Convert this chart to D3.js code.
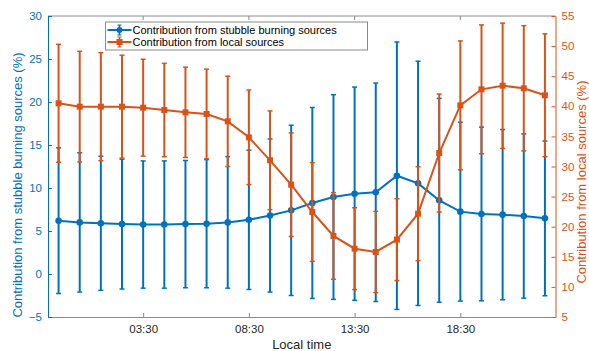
<!DOCTYPE html>
<html>
<head>
<meta charset="utf-8">
<script src="https://cdn.jsdelivr.net/npm/d3@7"></script>
<style>
  body { margin: 0; background: #fff; }
  svg { font-family: "Liberation Sans", Arial, sans-serif; }
</style>
</head>
<body>
<div id="chart"></div>
<script>
// local time of each point, in hours (first point is 23:30 of the previous day)
const hours = [-0.5, 0.5, 1.5, 2.5, 3.5, 4.5, 5.5, 6.5, 7.5, 8.5, 9.5, 10.5,
  11.5, 12.5, 13.5, 14.5, 15.5, 16.5, 17.5, 18.5, 19.5, 20.5, 21.5, 22.5];

// stubble burning contribution (%), mean and std
const stubbleMean = [6.2, 6.0, 5.9, 5.8, 5.75, 5.75, 5.8, 5.85, 6.0, 6.3, 6.8, 7.4,
  8.26, 8.95, 9.34, 9.5, 11.43, 10.54, 8.57, 7.25, 6.98, 6.9, 6.74, 6.47];
const stubbleStd = [8.47, 8.1, 7.8, 7.55, 7.4, 7.4, 7.4, 7.45, 7.65, 8.1, 8.9, 9.9,
  11.1, 11.9, 12.4, 12.7, 15.55, 14.2, 11.85, 10.4, 10.1, 9.9, 9.55, 9.0];

// local sources contribution (%), mean and std
const localMean = [40.5, 39.94, 39.94, 39.94, 39.77, 39.38, 39.0, 38.72, 37.5, 34.85, 31.03, 26.98,
  22.44, 18.46, 16.35, 15.8, 17.85, 22.16, 32.24, 40.16, 42.82, 43.42, 42.99, 41.83];
const localStd = [9.8, 9.2, 8.97, 8.55, 8.05, 7.75, 7.5, 7.45, 7.5, 7.86, 8.2, 8.6,
  8.2, 7.2, 6.8, 6.75, 6.8, 7.8, 9.8, 10.7, 10.7, 10.4, 10.4, 10.2];

const xTicks = [3.5, 8.5, 13.5, 18.5];
const xTickLabels = ["03:30", "08:30", "13:30", "18:30"];
const leftTicks = [-5, 0, 5, 10, 15, 20, 25, 30];
const rightTicks = [5, 10, 15, 20, 25, 30, 35, 40, 45, 50, 55];

const blue = "#0072BD";
const orange = "#D95319";
const gray = "#262626";

const svgWidth = 589;
const svgHeight = 351;
const margin = { top: 16, right: 33.5, bottom: 34, left: 48 };
const width = svgWidth - margin.left - margin.right;
const height = svgHeight - margin.top - margin.bottom;

const svg = d3.select("#chart")
  .append("svg")
  .attr("width", svgWidth)
  .attr("height", svgHeight);

const chartGroup = svg.append("g")
  .attr("transform", `translate(${margin.left}, ${margin.top})`);

const x = d3.scaleLinear().domain([-1, 23]).range([0, width]);
const yLeft = d3.scaleLinear().domain([-5, 30]).range([height, 0]);
const yRight = d3.scaleLinear().domain([5, 55]).range([height, 0]);

// box (top line with ticks too)
chartGroup.append("line")
  .attr("x1", 0).attr("x2", width).attr("y1", 0).attr("y2", 0)
  .attr("stroke", "#8a8a8a").attr("stroke-width", 1);
chartGroup.selectAll(".toptick")
  .data(xTicks)
  .enter()
  .append("line")
  .attr("x1", d => x(d)).attr("x2", d => x(d))
  .attr("y1", 0).attr("y2", 4)
  .attr("stroke", "#8a8a8a");

// bottom axis
const bottomAxis = d3.axisBottom(x)
  .tickValues(xTicks)
  .tickFormat((d, i) => xTickLabels[i])
  .tickSizeInner(-4)
  .tickSizeOuter(0)
  .tickPadding(8);
const xAxis = chartGroup.append("g")
  .attr("transform", `translate(0, ${height})`)
  .call(bottomAxis);
xAxis.select(".domain").attr("stroke", "#8a8a8a");
xAxis.selectAll(".tick line").attr("stroke", "#8a8a8a");
xAxis.selectAll("text")
  .attr("fill", gray)
  .style("font-size", "11.5px")
  .style("font-family", "Liberation Sans, Arial, sans-serif");

// left axis
const leftAxis = d3.axisLeft(yLeft)
  .tickValues(leftTicks)
  .tickSizeInner(-4)
  .tickSizeOuter(0)
  .tickPadding(6);
const yAxisL = chartGroup.append("g").call(leftAxis);
yAxisL.select(".domain").attr("stroke", blue);
yAxisL.selectAll(".tick line").attr("stroke", blue);
yAxisL.selectAll("text")
  .attr("fill", blue)
  .style("font-size", "11.5px")
  .style("font-family", "Liberation Sans, Arial, sans-serif");

// right axis
const rightAxis = d3.axisRight(yRight)
  .tickValues(rightTicks)
  .tickSizeInner(-4)
  .tickSizeOuter(0)
  .tickPadding(6);
const yAxisR = chartGroup.append("g")
  .attr("transform", `translate(${width}, 0)`)
  .call(rightAxis);
yAxisR.select(".domain").attr("stroke", orange);
yAxisR.selectAll(".tick line").attr("stroke", orange);
yAxisR.selectAll("text")
  .attr("fill", orange)
  .style("font-size", "11.5px")
  .style("font-family", "Liberation Sans, Arial, sans-serif");

// axis titles
chartGroup.append("text")
  .attr("x", width / 2)
  .attr("y", height + 32)
  .attr("text-anchor", "middle")
  .attr("fill", gray)
  .style("font-size", "13px")
  .text("Local time");

chartGroup.append("text")
  .attr("transform", "rotate(-90)")
  .attr("x", -169)
  .attr("y", -26)
  .attr("text-anchor", "middle")
  .attr("fill", blue)
  .style("font-size", "13px")
  .text("Contribution from stubble burning sources (%)");

chartGroup.append("text")
  .attr("transform", "rotate(-90)")
  .attr("x", -166)
  .attr("y", width + 30.5)
  .attr("text-anchor", "middle")
  .attr("fill", orange)
  .style("font-size", "13px")
  .text("Contribution from local sources (%)");

// draw one error bar series
function drawSeries(mean, std, yScale, color, marker) {
  const g = chartGroup.append("g");
  const pts = hours.map((h, i) => ({ h: h, m: mean[i], s: std[i] }));

  const bars = g.selectAll(".bar")
    .data(pts)
    .enter()
    .append("g");
  bars.append("line")
    .attr("x1", d => x(d.h)).attr("x2", d => x(d.h))
    .attr("y1", d => yScale(d.m - d.s)).attr("y2", d => yScale(d.m + d.s))
    .attr("stroke", color).attr("stroke-width", 2);
  bars.append("line")
    .attr("x1", d => x(d.h) - 2.5).attr("x2", d => x(d.h) + 2.5)
    .attr("y1", d => yScale(d.m + d.s)).attr("y2", d => yScale(d.m + d.s))
    .attr("stroke", color).attr("stroke-width", 1.5);
  bars.append("line")
    .attr("x1", d => x(d.h) - 2.5).attr("x2", d => x(d.h) + 2.5)
    .attr("y1", d => yScale(d.m - d.s)).attr("y2", d => yScale(d.m - d.s))
    .attr("stroke", color).attr("stroke-width", 1.5);

  const line = d3.line().x(d => x(d.h)).y(d => yScale(d.m));
  g.append("path")
    .datum(pts)
    .attr("d", line)
    .attr("fill", "none")
    .attr("stroke", color)
    .attr("stroke-width", 2);

  if (marker === "circle") {
    g.selectAll(".pt")
      .data(pts)
      .enter()
      .append("circle")
      .attr("cx", d => x(d.h)).attr("cy", d => yScale(d.m))
      .attr("r", 3.3)
      .attr("fill", color);
  } else {
    g.selectAll(".pt")
      .data(pts)
      .enter()
      .append("rect")
      .attr("x", d => x(d.h) - 3).attr("y", d => yScale(d.m) - 3)
      .attr("width", 6).attr("height", 6)
      .attr("fill", color);
  }
}

drawSeries(stubbleMean, stubbleStd, yLeft, blue, "circle");
drawSeries(localMean, localStd, yRight, orange, "square");

// legend
const legend = svg.append("g").attr("transform", "translate(105.5, 22)");
legend.append("rect")
  .attr("width", 262).attr("height", 28)
  .attr("fill", "#fff")
  .attr("stroke", "#8a8a8a").attr("stroke-width", 1);

const legendItems = [
  { label: "Contribution from stubble burning sources", color: blue, marker: "circle" },
  { label: "Contribution from local sources", color: orange, marker: "square" }
];
legendItems.forEach((item, i) => {
  const cy = 8 + i * 12;
  const row = legend.append("g");
  row.append("line")
    .attr("x1", 2).attr("x2", 26).attr("y1", cy).attr("y2", cy)
    .attr("stroke", item.color).attr("stroke-width", 2);
  row.append("line")
    .attr("x1", 14).attr("x2", 14).attr("y1", cy - 5).attr("y2", cy + 5)
    .attr("stroke", item.color).attr("stroke-width", 1.5);
  row.append("line")
    .attr("x1", 12).attr("x2", 16).attr("y1", cy - 5).attr("y2", cy - 5)
    .attr("stroke", item.color).attr("stroke-width", 1);
  row.append("line")
    .attr("x1", 12).attr("x2", 16).attr("y1", cy + 5).attr("y2", cy + 5)
    .attr("stroke", item.color).attr("stroke-width", 1);
  if (item.marker === "circle") {
    row.append("circle").attr("cx", 14).attr("cy", cy).attr("r", 3).attr("fill", item.color);
  } else {
    row.append("rect").attr("x", 11).attr("y", cy - 3).attr("width", 6).attr("height", 6).attr("fill", item.color);
  }
  row.append("text")
    .attr("x", 27)
    .attr("y", cy + 4)
    .attr("fill", "#000")
    .style("font-size", "11px")
    .text(item.label);
});
</script>
</body>
</html>
